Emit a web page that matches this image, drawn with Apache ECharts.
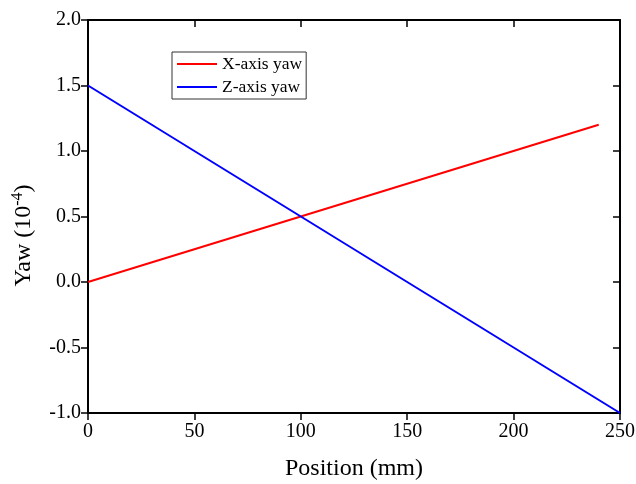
<!DOCTYPE html>
<html>
<head>
<meta charset="utf-8">
<script src="https://cdn.jsdelivr.net/npm/echarts@6/dist/echarts.min.js"></script>
<style>
  html, body { margin: 0; padding: 0; background: #fff; }
  #chart { width: 636px; height: 484px; }
</style>
</head>
<body>
<div id="chart"></div>
<script>
// Yaw along position for the two axes (endpoints of each linear run)
const xPosition = [0, 240];
const xYaw = [0, 1.2];
const zPosition = [0, 250];
const zYaw = [1.5, -1.0];
const seriesNames = ['X-axis yaw', 'Z-axis yaw'];
const xTicks = [0, 50, 100, 150, 200, 250];
const yTicks = [-1.0, -0.5, 0.0, 0.5, 1.0, 1.5, 2.0];

const FONT = '"Liberation Serif", "Times New Roman", serif';
const pairs = (xs, ys) => xs.map((x, i) => [x, ys[i]]);

const axisLine = { show: true, onZero: false, lineStyle: { color: '#000', width: 2 } };
const tickStyle = { color: '#000', width: 1.5 };

const chart = echarts.init(document.getElementById('chart'), null, { renderer: 'canvas' });
chart.setOption({
  backgroundColor: '#fff',
  animation: false,
  grid: {
    left: 88, right: 16, top: 20, bottom: 71,
    containLabel: false, outerBoundsMode: 'none'
  },
  legend: {
    orient: 'vertical',
    left: 172,
    top: 52,
    padding: [3, 4, 3, 5],
    borderColor: '#333',
    borderWidth: 1,
    icon: 'rect',
    itemWidth: 40,
    itemHeight: 2,
    itemGap: 5,
    textStyle: { fontFamily: FONT, fontSize: 17.5, lineHeight: 18, color: '#000' },
    data: seriesNames
  },
  xAxis: [
    {
      type: 'value', position: 'bottom',
      min: xTicks[0], max: xTicks[xTicks.length - 1], interval: 50,
      axisLine: axisLine,
      axisTick: { show: true, inside: false, length: 7, lineStyle: tickStyle },
      axisLabel: { color: '#000', fontFamily: FONT, fontSize: 20, margin: 9 },
      splitLine: { show: false },
      name: 'Position (mm)', nameLocation: 'middle', nameGap: 44,
      nameTextStyle: { color: '#000', fontFamily: FONT, fontSize: 24 }
    },
    {
      type: 'value', position: 'top',
      min: xTicks[0], max: xTicks[xTicks.length - 1], interval: 50,
      axisLine: axisLine,
      axisTick: { show: true, inside: true, length: 7, lineStyle: tickStyle },
      axisLabel: { show: false },
      splitLine: { show: false }
    }
  ],
  yAxis: [
    {
      type: 'value', position: 'left',
      min: yTicks[0], max: yTicks[yTicks.length - 1], interval: 0.5,
      axisLine: axisLine,
      axisTick: { show: true, inside: false, length: 7, lineStyle: tickStyle },
      axisLabel: {
        color: '#000', fontFamily: FONT, fontSize: 20, margin: 7,
        formatter: v => v.toFixed(1)
      },
      splitLine: { show: false },
      name: '{b|Yaw (10}{s|-4}{b|)}', nameLocation: 'middle', nameGap: 50, nameRotate: 90,
      nameTextStyle: {
        color: '#000', fontFamily: FONT, fontSize: 24,
        padding: [0, 38, 0, 0],
        rich: {
          b: { fontFamily: FONT, fontSize: 24, color: '#000' },
          s: { fontFamily: FONT, fontSize: 16, color: '#000', verticalAlign: 'top', padding: [0, 0, 12, 0] }
        }
      }
    },
    {
      type: 'value', position: 'right',
      min: yTicks[0], max: yTicks[yTicks.length - 1], interval: 0.5,
      axisLine: axisLine,
      axisTick: { show: true, inside: true, length: 7, lineStyle: tickStyle },
      axisLabel: { show: false },
      splitLine: { show: false }
    }
  ],
  series: [
    {
      name: seriesNames[0], type: 'line', xAxisIndex: 0, yAxisIndex: 0,
      data: pairs(xPosition, xYaw),
      symbol: 'none', color: '#ff0000',
      lineStyle: { color: '#ff0000', width: 2 }
    },
    {
      name: seriesNames[1], type: 'line', xAxisIndex: 0, yAxisIndex: 0,
      data: pairs(zPosition, zYaw),
      symbol: 'none', color: '#0000ff',
      lineStyle: { color: '#0000ff', width: 2 }
    }
  ]
});
</script>
</body>
</html>
